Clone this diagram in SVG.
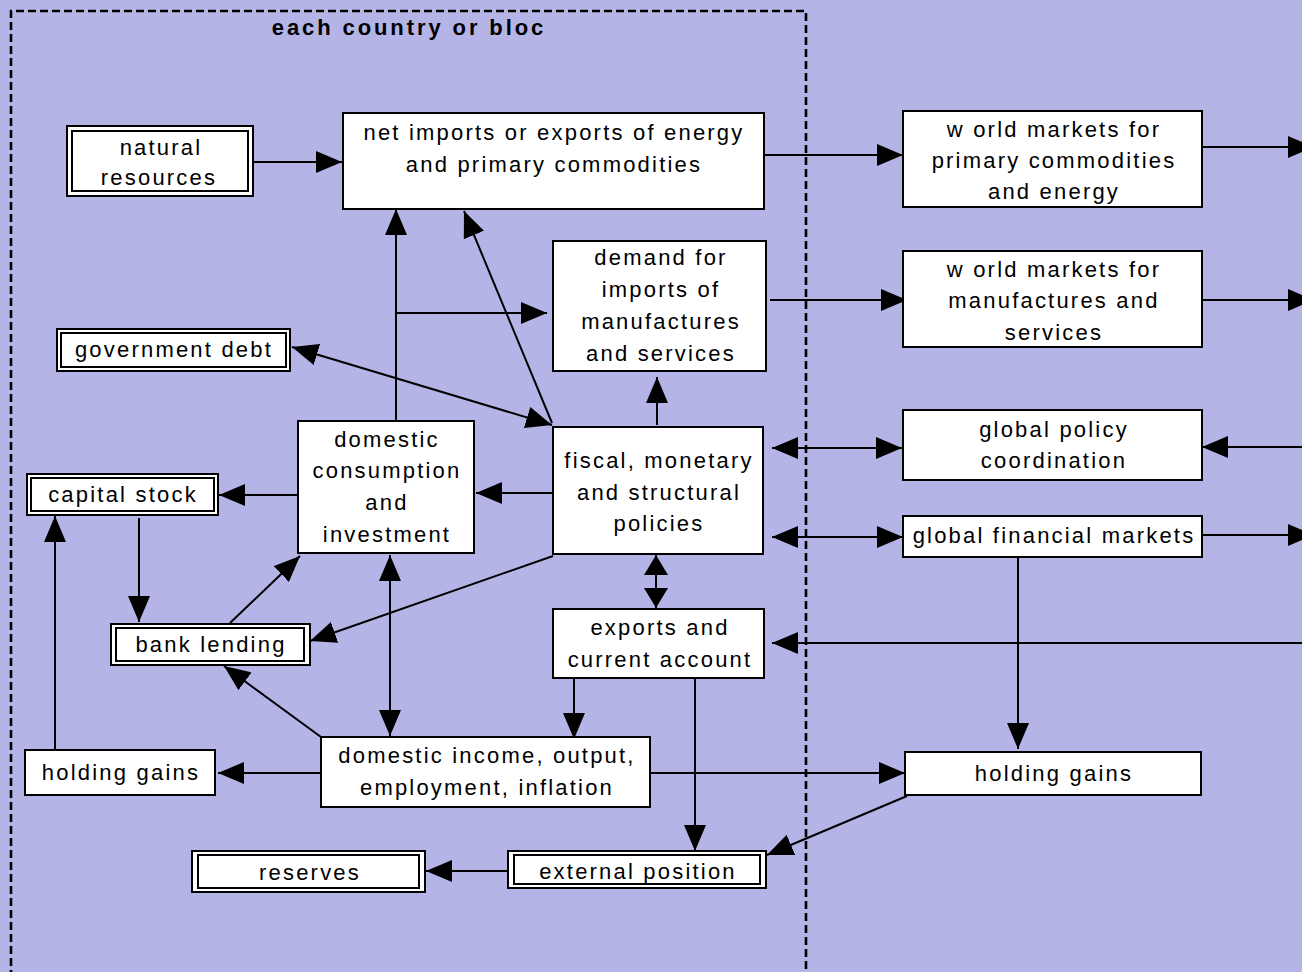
<svg xmlns="http://www.w3.org/2000/svg" width="1302" height="972" viewBox="0 0 1302 972">
<style>
.box{fill:#fff;stroke:#000;stroke-width:2}
.inner{fill:none;stroke:#000;stroke-width:2}
.t{font-family:"Liberation Sans",Arial,sans-serif;font-size:22px;letter-spacing:2.2px;text-anchor:middle;fill:#000}
.title{font-family:"Liberation Sans",Arial,sans-serif;font-size:22px;font-weight:bold;letter-spacing:2.9px;text-anchor:middle;fill:#000}
.c{stroke:#000;stroke-width:2;fill:none;marker-end:url(#ah)}
.d{marker-start:url(#ahs)}
.sm{marker-start:url(#sms);marker-end:url(#sme)}
</style>
<defs>
<marker id="ah" markerUnits="userSpaceOnUse" markerWidth="26" markerHeight="22" refX="26" refY="11" orient="auto" viewBox="0 0 26 22"><path d="M0,0L26,11L0,22z" fill="#000"/></marker>
<marker id="ahs" markerUnits="userSpaceOnUse" markerWidth="26" markerHeight="22" refX="26" refY="11" orient="auto-start-reverse" viewBox="0 0 26 22"><path d="M0,0L26,11L0,22z" fill="#000"/></marker>
<marker id="sme" markerUnits="userSpaceOnUse" markerWidth="20" markerHeight="24" refX="20" refY="12" orient="auto" viewBox="0 0 20 24"><path d="M0,0L20,12L0,24z" fill="#000"/></marker>
<marker id="sms" markerUnits="userSpaceOnUse" markerWidth="20" markerHeight="24" refX="20" refY="12" orient="auto-start-reverse" viewBox="0 0 20 24"><path d="M0,0L20,12L0,24z" fill="#000"/></marker>
</defs>
<rect width="1302" height="972" fill="#B4B4E6"/>
<g id="boundary">
<path d="M11,990V11H806V990" fill="none" stroke="#000" stroke-width="2.6" stroke-dasharray="8,4"/>
<text class="title" x="409" y="35">each country or bloc</text>
</g>
<g id="connectors">
<line class="c" x1="253" y1="162" x2="342" y2="162"/>
<line class="c" x1="764" y1="155" x2="903" y2="155"/>
<line class="c" x1="1202" y1="147" x2="1314" y2="147"/>
<line class="c" x1="770" y1="300" x2="907" y2="300"/>
<line class="c" x1="1202" y1="300" x2="1314" y2="300"/>
<line class="c d" x1="772" y1="448" x2="902" y2="448"/>
<line class="c" x1="1302" y1="447" x2="1202" y2="447"/>
<line class="c d" x1="772" y1="537" x2="903" y2="537"/>
<line class="c" x1="1202" y1="535" x2="1314" y2="535"/>
<line class="c" x1="1018" y1="557" x2="1018" y2="749"/>
<line class="c" x1="1302" y1="643" x2="772" y2="643"/>
<line class="c" x1="650" y1="773" x2="905" y2="773"/>
<line class="c" x1="907" y1="796" x2="767" y2="855"/>
<line class="c" x1="695" y1="678" x2="695" y2="851"/>
<line class="c" x1="574" y1="678" x2="574" y2="739"/>
<line class="sm" x1="656" y1="555" x2="656" y2="608" stroke="#000" stroke-width="2"/>
<line class="c" x1="657" y1="425" x2="657" y2="377"/>
<line class="c" x1="552" y1="423" x2="464" y2="211"/>
<line class="c d" x1="292" y1="347" x2="552" y2="425"/>
<line class="c" x1="396" y1="421" x2="396" y2="209"/>
<line class="c" x1="396" y1="313" x2="547" y2="313"/>
<line class="c" x1="553" y1="493" x2="476" y2="493"/>
<line class="c" x1="298" y1="495" x2="219" y2="495"/>
<line class="c" x1="139" y1="518" x2="139" y2="622"/>
<line class="c" x1="55" y1="750" x2="55" y2="516"/>
<line class="c" x1="230" y1="623" x2="300" y2="556"/>
<line class="c" x1="553" y1="556" x2="310" y2="641"/>
<line class="c d" x1="390" y1="555" x2="390" y2="736"/>
<line class="c" x1="321" y1="737" x2="224" y2="666"/>
<line class="c" x1="321" y1="773" x2="218" y2="773"/>
<line class="c" x1="508" y1="871" x2="426" y2="871"/>
</g>
<g id="natural-resources">
<rect class="box" x="67" y="126" width="186" height="70"/>
<rect class="inner" x="72" y="131" width="176" height="60"/>
<text class="t" x="161" y="155">natural</text>
<text class="t" x="159" y="185">resources</text>
</g>
<g id="net-imports">
<rect class="box" x="343" y="113" width="421" height="96"/>
<text class="t" x="554" y="140">net imports or exports of energy</text>
<text class="t" x="554" y="172">and primary commodities</text>
</g>
<g id="world-primary">
<rect class="box" x="903" y="111" width="299" height="96"/>
<text class="t" x="1054" y="137">w orld markets for</text>
<text class="t" x="1054" y="168">primary commodities</text>
<text class="t" x="1054" y="199">and energy</text>
</g>
<g id="world-manufactures">
<rect class="box" x="903" y="251" width="299" height="96"/>
<text class="t" x="1054" y="277">w orld markets for</text>
<text class="t" x="1054" y="308">manufactures and</text>
<text class="t" x="1054" y="340">services</text>
</g>
<g id="demand-imports">
<rect class="box" x="553" y="241" width="213" height="130"/>
<text class="t" x="661" y="265">demand for</text>
<text class="t" x="661" y="297">imports of</text>
<text class="t" x="661" y="329">manufactures</text>
<text class="t" x="661" y="361">and services</text>
</g>
<g id="government-debt">
<rect class="box" x="57" y="329" width="233" height="42"/>
<rect class="inner" x="61" y="333" width="225" height="34"/>
<text class="t" x="174" y="357">government debt</text>
</g>
<g id="domestic-consumption">
<rect class="box" x="298" y="421" width="176" height="132"/>
<text class="t" x="387" y="447">domestic</text>
<text class="t" x="387" y="478">consumption</text>
<text class="t" x="387" y="510">and</text>
<text class="t" x="387" y="542">investment</text>
</g>
<g id="fiscal-policies">
<rect class="box" x="553" y="427" width="210" height="127"/>
<text class="t" x="659" y="468">fiscal, monetary</text>
<text class="t" x="659" y="500">and structural</text>
<text class="t" x="659" y="531">policies</text>
</g>
<g id="global-policy">
<rect class="box" x="903" y="410" width="299" height="70"/>
<text class="t" x="1054" y="437">global policy</text>
<text class="t" x="1054" y="468">coordination</text>
</g>
<g id="capital-stock">
<rect class="box" x="27" y="474" width="191" height="41"/>
<rect class="inner" x="31" y="478" width="183" height="33"/>
<text class="t" x="123" y="502">capital stock</text>
</g>
<g id="global-financial">
<rect class="box" x="903" y="516" width="299" height="41"/>
<text class="t" x="1054" y="543">global financial markets</text>
</g>
<g id="bank-lending">
<rect class="box" x="111" y="624" width="199" height="41"/>
<rect class="inner" x="116" y="628" width="188" height="33"/>
<text class="t" x="211" y="652">bank lending</text>
</g>
<g id="exports">
<rect class="box" x="553" y="609" width="211" height="69"/>
<text class="t" x="660" y="635">exports and</text>
<text class="t" x="660" y="667">current account</text>
</g>
<g id="holding-gains-left">
<rect class="box" x="25" y="750" width="190" height="45"/>
<text class="t" x="121" y="780">holding gains</text>
</g>
<g id="domestic-income">
<rect class="box" x="321" y="737" width="329" height="70"/>
<text class="t" x="487" y="763">domestic income, output,</text>
<text class="t" x="487" y="795">employment, inflation</text>
</g>
<g id="holding-gains-right">
<rect class="box" x="905" y="752" width="296" height="43"/>
<text class="t" x="1054" y="781">holding gains</text>
</g>
<g id="reserves">
<rect class="box" x="192" y="851" width="233" height="41"/>
<rect class="inner" x="198" y="855" width="221" height="33"/>
<text class="t" x="310" y="880">reserves</text>
</g>
<g id="external-position">
<rect class="box" x="508" y="851" width="258" height="37"/>
<rect class="inner" x="514" y="855" width="246" height="29"/>
<text class="t" x="638" y="879">external position</text>
</g>
</svg>
